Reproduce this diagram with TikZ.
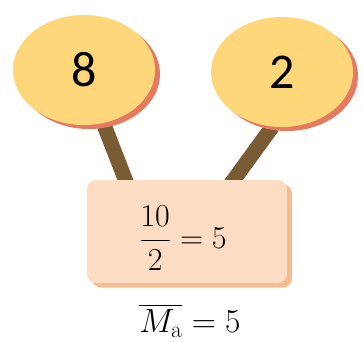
\RequirePackage{fix-cm}
\documentclass[tikz,border=0pt]{standalone}
\usepackage{fontspec}
\usepackage{amsmath}
\newfontfamily\carl{Carlito}
\usetikzlibrary{shapes.geometric,calc,backgrounds}
\definecolor{balloon}{RGB}{253,215,122}
\definecolor{balloonsh}{RGB}{229,122,96}
\definecolor{boxfill}{RGB}{252,221,195}
\definecolor{boxsh}{RGB}{245,188,146}
\definecolor{stick}{RGB}{122,92,52}
\tikzset{
  ball/.style={ellipse, fill=balloon, minimum width=142pt, minimum height=110pt, inner sep=0pt, font=\carl\fontsize{50}{50}\selectfont},
  ballsh/.style={ellipse, fill=balloonsh, minimum width=142pt, minimum height=110pt, inner sep=0pt},
  sumbox/.style={rounded corners=9pt, fill=boxfill, minimum width=200pt, minimum height=103pt, inner sep=0pt},
  sumboxsh/.style={rounded corners=9pt, fill=boxsh, minimum width=200pt, minimum height=103pt, inner sep=0pt},
  fractext/.style={inner sep=0pt, font=\fontsize{32}{36}\selectfont},
  stickline/.style={draw=stick, line width=15pt},
  result/.style={inner sep=0pt, font=\fontsize{33.5}{36}\selectfont}
}
\begin{document}
\begin{tikzpicture}[x=1pt,y=-1pt]
\useasboundingbox (0,0) rectangle (363,341);
\node[ballsh] (s8) at (89,74) {};
\node[ballsh] (s2) at (287,76) {};
\node[sumboxsh] (bsh) at (192,236) {};
\node[ball] (e8) at (84,70) {8};
\node[ball] (e2) at (282,72) {2};
\node[sumbox] (box) at (187,231.5) {};
\node[fractext] (frac) at (183,238) {$\dfrac{10}{2}=5$};
\node[result] (res) at (190,321) {$\overline{M_{\mathrm{a}}}=5$};
\begin{pgfonlayer}{background}
\coordinate (b1) at ($(box.north)+(-57,12)$);
\coordinate (b2) at ($(box.north)+(38,12)$);
\draw[stickline] (e8.-70) -- (b1);
\draw[stickline] (e2.-100) -- (b2);
\end{pgfonlayer}
\end{tikzpicture}
\end{document}
